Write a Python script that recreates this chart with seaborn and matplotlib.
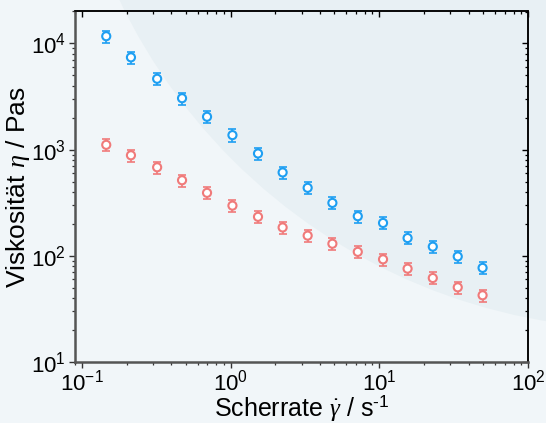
import numpy as np
import pandas as pd
import matplotlib
matplotlib.use("Agg")
import matplotlib.pyplot as plt
import seaborn as sns
from matplotlib.patches import Circle
from matplotlib.ticker import LogLocator, NullFormatter

# ---- data ----
shear_rate = [0.146, 0.214, 0.321, 0.472, 0.695, 1.03, 1.53, 2.24,
              3.30, 4.84, 7.17, 10.6, 15.5, 22.9, 33.7, 49.5]
visc_blue = [11700, 7400, 4650, 3050, 2040, 1370, 920, 610,
             437, 315, 236, 204, 147, 122, 98.6, 77]
err_blue = [1500, 950, 600, 400, 265, 180, 120, 80,
            57, 41, 31, 27, 19, 16, 13, 10]
visc_red = [1110, 885, 682, 515, 392, 297, 233, 185,
            155, 130, 109, 92.7, 75.7, 61.8, 50.5, 42.5]
err_red = [145, 115, 89, 67, 51, 39, 30, 24,
           20, 17, 14, 12, 10, 8, 6.6, 5.5]

xlabel = "Scherrate $\\dot{\\gamma}$ / s$^{\u20101}$"
ylabel = r"Viskosität $\eta$ / Pas"

blue = "#1e9ff2"
red = "#f07a7a"
bg = "#f1f6f9"
bg2 = "#e8f0f4"

sns.set_style("ticks")
plt.rcParams["font.family"] = ["Liberation Sans", "DejaVu Sans"]
plt.rcParams["mathtext.fontset"] = "custom"
plt.rcParams["mathtext.rm"] = "Liberation Sans"
plt.rcParams["mathtext.it"] = "Liberation Serif:italic"
plt.rcParams["mathtext.bf"] = "Liberation Sans:bold"
plt.rcParams["text.color"] = "black"
plt.rcParams["axes.labelcolor"] = "black"
plt.rcParams["xtick.color"] = "black"
plt.rcParams["ytick.color"] = "black"

fig = plt.figure(figsize=(5.46, 4.23), dpi=100, facecolor=bg)
# decorative background circle
circ = Circle((6.41, 4.23 + 2.49), 5.78, transform=fig.dpi_scale_trans,
              facecolor=bg2, edgecolor="none", zorder=-5)
fig.patches.append(circ)

ax = fig.add_axes([75 / 546, 1 - 362 / 423, (528 - 75) / 546, (362 - 11.5) / 423])
ax.set_facecolor("none")

df = pd.DataFrame({
    "x": shear_rate * 2,
    "y": visc_blue + visc_red,
    "err": err_blue + err_red,
    "s": ["blue"] * len(shear_rate) + ["red"] * len(shear_rate),
})

for name, col in [("blue", blue), ("red", red)]:
    d = df[df.s == name]
    ax.errorbar(d.x, d.y, yerr=d.err, fmt="none", ecolor=col, elinewidth=1.2,
                capsize=2.6, capthick=1.2, zorder=2)
sns.scatterplot(data=df, x="x", y="y", hue="s", palette={"blue": blue, "red": red},
                ax=ax, legend=False, s=34, marker="o", facecolor="white",
                linewidth=1.5, zorder=3)
coll = ax.collections[-1]
cols = [blue if s == "blue" else red for s in df.s]
coll.set_edgecolors(cols)
coll.set_facecolors("white")

ax.set_xscale("log")
ax.set_yscale("log")
ax.set_xlim(0.09, 100)
ax.set_ylim(10, 2e4)

ax.set_xlabel(xlabel, fontsize=18, labelpad=-1.5)
ax.set_ylabel(ylabel, fontsize=19, labelpad=-1)

ax.xaxis.set_major_locator(LogLocator(base=10, numticks=10))
ax.yaxis.set_major_locator(LogLocator(base=10, numticks=10))
ax.xaxis.set_minor_locator(LogLocator(base=10, subs=np.arange(2, 10), numticks=20))
ax.yaxis.set_minor_locator(LogLocator(base=10, subs=np.arange(2, 10), numticks=20))
ax.xaxis.set_minor_formatter(NullFormatter())
ax.yaxis.set_minor_formatter(NullFormatter())

ax.tick_params(which="major", direction="out", length=4.5, width=1, labelsize=16,
               color="#333333", labelcolor="black", pad=2, top=False, right=False)
ax.tick_params(which="minor", direction="out", length=2.5, width=0.9,
               color="#333333", top=False, right=False)
ax.tick_params(axis="x", which="major", pad=1)

for side in ["left", "bottom"]:
    ax.spines[side].set_color("#555555")
    ax.spines[side].set_linewidth(1.8)
for side in ["top", "right"]:
    ax.spines[side].set_visible(True)
    ax.spines[side].set_color("black")
    ax.spines[side].set_linewidth(1.1)

# inward ticks on top and right
secx = ax.secondary_xaxis("top")
secx.set_xscale("log")
secx.xaxis.set_major_locator(LogLocator(base=10, numticks=10))
secx.xaxis.set_minor_locator(LogLocator(base=10, subs=np.arange(2, 10), numticks=20))
secx.tick_params(which="major", direction="in", length=4.5, width=1, labeltop=False)
secx.tick_params(which="minor", direction="in", length=2.5, width=0.9, labeltop=False)
secx.spines["top"].set_color("black")
secx.spines["top"].set_linewidth(1.1)

secy = ax.secondary_yaxis("right")
secy.set_yscale("log")
secy.yaxis.set_major_locator(LogLocator(base=10, numticks=10))
secy.yaxis.set_minor_locator(LogLocator(base=10, subs=np.arange(2, 10), numticks=20))
secy.tick_params(which="major", direction="in", length=4.5, width=1, labelright=False)
secy.tick_params(which="minor", direction="in", length=2.5, width=0.9, labelright=False)
secy.spines["right"].set_color("black")
secy.spines["right"].set_linewidth(1.1)

fig.savefig("out.png", dpi=100, facecolor=bg)
